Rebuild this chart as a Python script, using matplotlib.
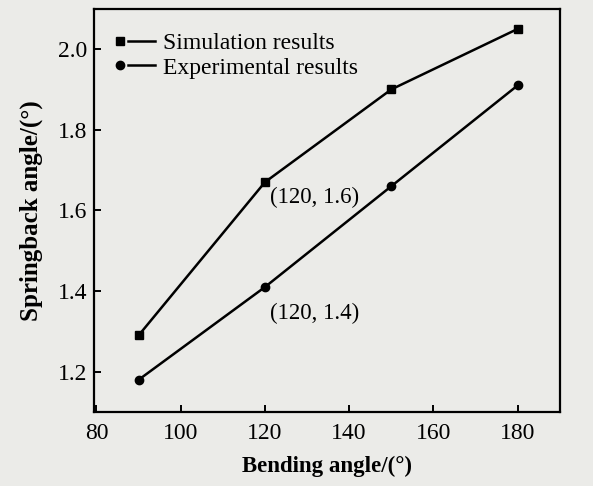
import matplotlib.pyplot as plt
from matplotlib.lines import Line2D
from matplotlib.legend_handler import HandlerLine2D

# data
bend_angle = [90, 120, 150, 180]
sim_springback = [1.29, 1.67, 1.90, 2.05]
exp_springback = [1.18, 1.41, 1.66, 1.91]

x_ticks = [80, 100, 120, 140, 160, 180]
y_ticks = [1.2, 1.4, 1.6, 1.8, 2.0]


class MarkerThenLine(HandlerLine2D):
    # legend key drawn as "marker  ——" like the printed figure
    def create_artists(self, legend, orig_handle, xdescent, ydescent,
                       width, height, fontsize, trans):
        y = height / 2 - ydescent
        x0 = -xdescent
        line = Line2D([x0 + 0.31 * width, x0 + width], [y, y],
                      color='black', lw=orig_handle.get_linewidth())
        mark = Line2D([x0 + 0.1 * width], [y], ls='none',
                      marker=orig_handle.get_marker(), color='black',
                      ms=orig_handle.get_markersize())
        line.set_transform(trans)
        mark.set_transform(trans)
        return [line, mark]


plt.rcParams['font.family'] = ['Liberation Serif', 'DejaVu Serif']

bg = '#ebebe8'
fig = plt.figure(figsize=(5.93, 4.86), dpi=100, facecolor=bg)
ax = fig.add_axes([0.159, 0.152, 0.785, 0.83], facecolor=bg)

ax.plot(bend_angle, sim_springback, '-s', color='black', lw=1.8, ms=6,
        label='Simulation results')
ax.plot(bend_angle, exp_springback, '-o', color='black', lw=1.8, ms=6,
        label='Experimental results')

ax.annotate('(120, 1.6)', (bend_angle[1], sim_springback[1]), xytext=(4, -11),
            textcoords='offset points', fontsize=16.5, va='center')
ax.annotate('(120, 1.4)', (bend_angle[1], exp_springback[1]), xytext=(4, -19),
            textcoords='offset points', fontsize=16.5, va='center')

ax.set_xlim(79.5, 190)
ax.set_ylim(1.1, 2.1)
ax.set_xticks(x_ticks)
ax.set_yticks(y_ticks)
ax.set_yticklabels([f'{v:.1f}' for v in y_ticks])
ax.tick_params(direction='in', length=5, width=1.4, labelsize=17,
               top=False, right=False)
ax.tick_params(axis='x', pad=8)
ax.tick_params(axis='y', pad=5)
for s in ax.spines.values():
    s.set_linewidth(1.6)

ax.set_xlabel('Bending angle/(°)', fontsize=16.5, fontweight='bold', labelpad=8)
ax.set_ylabel('Springback angle/(°)', fontsize=18, fontweight='bold', labelpad=11)

ax.legend(loc='upper left', bbox_to_anchor=(0.046, 0.94), frameon=False,
          fontsize=17, handlelength=1.65, handletextpad=0.34,
          labelspacing=0.11, borderpad=0, borderaxespad=0,
          handler_map={Line2D: MarkerThenLine()})

fig.savefig('out.png', dpi=100, facecolor=bg)
